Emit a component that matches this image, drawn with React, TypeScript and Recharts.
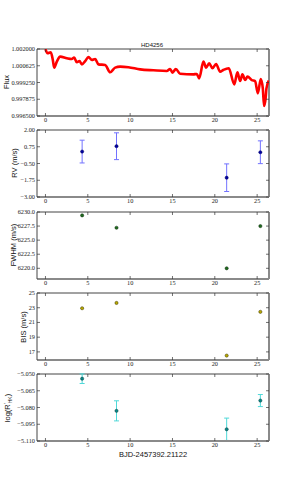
import React from "react";
import {
  ErrorBar,
  Line,
  LineChart,
  ReferenceLine,
  Scatter,
  ScatterChart,
  XAxis,
  YAxis,
} from "recharts";

// light curve (days since BJD 2457392.21122)
const fluxT = [
  0, 0.24, 0.63, 0.87, 1.03, 1.34, 1.74, 2.52, 3.1, 3.39, 3.7, 4.02, 4.3, 4.69, 5.08,
  5.48, 5.87, 6.26, 7.05, 7.64, 8.23, 8.82, 9.8, 11.18, 12.75, 14.33, 14.72, 15.0, 15.4,
  15.9, 17.47, 17.87, 18.15, 18.66, 18.97, 19.33, 19.72, 20.15, 20.63, 21.0, 21.65, 22.3,
  22.67, 22.99, 23.26, 23.58, 23.86, 24.37, 24.76, 25.08, 25.43, 25.67, 25.82, 26.0, 26.1,
  26.37,
];
const fluxV = [
  1.002, 1.00165, 1.00173, 1.0011, 1.00047, 1.00096, 1.00137, 1.00124, 1.00118, 1.00129,
  1.00091, 1.00101, 1.00074, 1.00101, 1.00134, 1.0011, 1.00118, 1.00074, 1.00069, 1.00009,
  1.00047, 1.00055, 1.0005, 1.00033, 1.00025, 1.00019, 1.00036, 1.00006, 1.00036, 0.99997,
  0.99992, 0.99995, 0.99959, 1.00096, 1.00047, 1.00082, 1.00042, 1.00077, 1.00014, 1.00028,
  1.00042, 0.9991, 1.00009, 0.99937, 0.99992, 0.99945, 0.99973, 0.99945, 0.99937, 0.99836,
  0.99954, 0.99877, 0.99732, 0.99795, 0.99877, 0.9994,
];

// spectroscopic epochs
const obsT = [4.33, 8.39, 21.4, 25.38];
const rv = [0.39, 0.79, -1.56, 0.34];
const rvErr = [0.85, 1.0, 1.03, 0.85];
const fwhm = [6229.4, 6227.2, 6220.0, 6227.5];
const bis = [22.93, 23.65, 16.5, 22.44];
const rhk = [-5.0542, -5.083, -5.0995, -5.0738];
const rhkErr = [0.0043, 0.009, 0.01, 0.0054];

const xTicks = [0, 5, 10, 15, 20, 25];
const fluxTicks = [0.9965, 0.997875, 0.99925, 1.000625, 1.002];
const rvTicks = [-3, -1.75, -0.5, 0.75, 2];
const fwhmTicks = [6220, 6222.5, 6225, 6227.5, 6230];
const bisTicks = [17, 19, 21, 23, 25];
const rhkTicks = [-5.11, -5.095, -5.08, -5.065, -5.05];

const W = 299;
const PLOT_H = 67;
const M = { top: 5, right: 30, bottom: 0, left: 0 };
const Y_W = 37;
const X_H = 14;
const H = M.top + PLOT_H + X_H;
const PL = Y_W;
const PR = W - M.right;
const X_DOMAIN: [number, number] = [-1, 26.4];

const TICK_FONT = "'Liberation Serif', serif";
const LABEL_FONT = "'Liberation Sans', Arial, sans-serif";

const minus = (s: string) => s.replace("-", "\u2212");

function yTick(fmt: (v: number) => string) {
  return (p: any) => (
    <g>
      <text x={PL - 2} y={p.y} dy={2} textAnchor="end" fontSize={6.3} fill="#222" fontFamily={TICK_FONT}>
        {minus(fmt(p.payload.value))}
      </text>
      <line x1={PL} x2={PL + 3} y1={p.y} y2={p.y} stroke="#333" strokeWidth={0.7} />
      <line x1={PR - 3} x2={PR} y1={p.y} y2={p.y} stroke="#333" strokeWidth={0.7} />
    </g>
  );
}

const xTick = (p: any) => (
  <g>
    <text x={p.x} y={M.top + PLOT_H + 6} textAnchor="middle" fontSize={6.3} fill="#222" fontFamily={TICK_FONT}>
      {p.payload.value}
    </text>
    <line x1={p.x} x2={p.x} y1={M.top + PLOT_H - 3} y2={M.top + PLOT_H} stroke="#333" strokeWidth={0.7} />
    <line x1={p.x} x2={p.x} y1={M.top} y2={M.top + 3} stroke="#333" strokeWidth={0.7} />
  </g>
);

function Frame(yDomain: [number, number]) {
  return [
    <ReferenceLine key="top" y={yDomain[1]} stroke="#444" strokeWidth={1} />,
    <ReferenceLine key="right" x={X_DOMAIN[1]} stroke="#8a8a8a" strokeWidth={2} />,
  ];
}

function Axes(yDomain: [number, number], ticks: number[], fmt: (v: number) => string) {
  return [
    <XAxis
      key="x"
      type="number"
      dataKey="t"
      domain={X_DOMAIN}
      ticks={xTicks}
      allowDataOverflow
      height={X_H}
      tickSize={0}
      tickLine={false}
      axisLine={{ stroke: "#8a8a8a", strokeWidth: 2 }}
      tick={xTick}
      interval={0}
    />,
    <YAxis
      key="y"
      type="number"
      dataKey="v"
      domain={yDomain}
      ticks={ticks}
      allowDataOverflow
      width={Y_W}
      tickSize={0}
      tickLine={false}
      axisLine={{ stroke: "#444", strokeWidth: 1 }}
      tick={yTick(fmt)}
      interval={0}
    />,
    ...Frame(yDomain),
  ];
}

function Dot(fill: string, stroke: string) {
  return (p: any) => <circle cx={p.cx} cy={p.cy} r={1.6} fill={fill} stroke={stroke} strokeWidth={0.5} />;
}

const pos = (top: number): React.CSSProperties => ({ position: "absolute", left: 0, top: top - M.top });

function YLabel({ x, y, children }: { x: number; y: number; children: React.ReactNode }) {
  return (
    <div
      style={{
        position: "absolute",
        left: x,
        top: y,
        transform: "translate(-50%, -50%) rotate(-90deg)",
        whiteSpace: "nowrap",
        fontFamily: LABEL_FONT,
        fontSize: 7.5,
        color: "#111",
      }}
    >
      {children}
    </div>
  );
}

export default function App() {
  const fluxData = fluxT.map((t, i) => ({ t, v: fluxV[i] }));
  const rvData = obsT.map((t, i) => ({ t, v: rv[i], e: rvErr[i] }));
  const fwhmData = obsT.map((t, i) => ({ t, v: fwhm[i] }));
  const bisData = obsT.map((t, i) => ({ t, v: bis[i] }));
  const rhkData = obsT.map((t, i) => ({ t, v: rhk[i], e: rhkErr[i] }));

  return (
    <div style={{ position: "absolute", left: 0, top: 0, width: W, height: 491, background: "#fff" }}>
      <div style={pos(49)}>
        <LineChart width={W} height={H} data={fluxData} margin={M}>
          {Axes([0.9965, 1.002], fluxTicks, (v) => v.toFixed(6))}
          <Line
            dataKey="v"
            stroke="#ff0000"
            strokeWidth={2.6}
            dot={false}
            type="monotone"
            isAnimationActive={false}
          />
        </LineChart>
      </div>

      <div style={pos(130)}>
        <ScatterChart width={W} height={H} margin={M}>
          {Axes([-3, 2], rvTicks, (v) => v.toFixed(2))}
          <Scatter data={rvData} dataKey="v" shape={Dot("#0000a0", "#000060")} isAnimationActive={false}>
            <ErrorBar dataKey="e" direction="y" width={2.5} stroke="#7272ff" strokeWidth={1} />
          </Scatter>
        </ScatterChart>
      </div>

      <div style={pos(212)}>
        <ScatterChart width={W} height={H} margin={M}>
          {Axes([6218.1, 6230], fwhmTicks, (v) => v.toFixed(1))}
          <Scatter data={fwhmData} dataKey="v" shape={Dot("#1f6b1f", "#0a2a0a")} isAnimationActive={false} />
        </ScatterChart>
      </div>

      <div style={pos(293)}>
        <ScatterChart width={W} height={H} margin={M}>
          {Axes([15.9, 25], bisTicks, (v) => v.toFixed(0))}
          <Scatter data={bisData} dataKey="v" shape={Dot("#b8a800", "#3a3500")} isAnimationActive={false} />
        </ScatterChart>
      </div>

      <div style={pos(374)}>
        <ScatterChart width={W} height={H} margin={M}>
          {Axes([-5.11, -5.05], rhkTicks, (v) => v.toFixed(3))}
          <Scatter data={rhkData} dataKey="v" shape={Dot("#0a8585", "#034040")} isAnimationActive={false}>
            <ErrorBar dataKey="e" direction="y" width={2.5} stroke="#4fd8d8" strokeWidth={1} />
          </Scatter>
        </ScatterChart>
      </div>

      <div
        style={{
          position: "absolute",
          left: 152,
          top: 45,
          transform: "translate(-50%, -50%)",
          fontFamily: LABEL_FONT,
          fontSize: 6,
          color: "#111",
        }}
      >
        HD4256
      </div>
      <YLabel x={6} y={82}>Flux</YLabel>
      <YLabel x={14} y={163}>RV (m/s)</YLabel>
      <YLabel x={13} y={245}>FWHM (m/s)</YLabel>
      <YLabel x={23} y={327}>BIS (m/s)</YLabel>
      <YLabel x={7} y={408}>
        log(R
        <span style={{ position: "relative", top: -2, fontSize: 5 }}>′</span>
        <span style={{ position: "relative", top: 1.5, fontSize: 5 }}>HK</span>)
      </YLabel>
      <div
        style={{
          position: "absolute",
          left: 153,
          top: 454,
          transform: "translate(-50%, -50%)",
          whiteSpace: "nowrap",
          fontFamily: LABEL_FONT,
          fontSize: 7.5,
          color: "#111",
        }}
      >
        BJD-2457392.21122
      </div>
    </div>
  );
}
